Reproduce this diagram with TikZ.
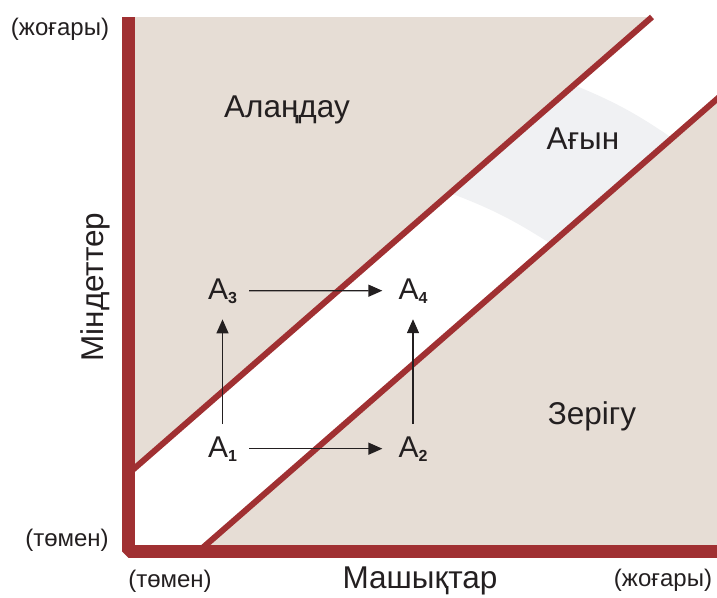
\documentclass[tikz,border=0pt]{standalone}
\usepackage{fontspec}
\setmainfont{Liberation Sans}
\usetikzlibrary{arrows.meta,positioning,calc}
\definecolor{axisred}{RGB}{160,48,50}
\definecolor{zonebeige}{RGB}{230,221,213}
\definecolor{flowgray}{RGB}{240,241,243}
\definecolor{inkgray}{RGB}{35,31,32}
\tikzstyle{arrow} = [-{Triangle[length=14pt,width=12pt]}, line width=1.4pt, inkgray, shorten <=12pt, shorten >=16pt]
\tikzstyle{zone} = [anchor=base, text=inkgray, font=\fontsize{31.5}{36}\selectfont]
\tikzstyle{tick} = [anchor=base, text=inkgray, font=\fontsize{24}{28}\selectfont]

\begin{document}
\begin{tikzpicture}[x=1pt, y=-1pt]
    \clip (0,0) rectangle (717,597);

    % Zones
    \coordinate (up0) at (128,474);
    \coordinate (up1) at (652,17);
    \coordinate (lo0) at (199,551);
    \coordinate (lo1) at (725,92);
    \fill[zonebeige] (128,17) -- (up1) -- (up0) -- cycle;
    \fill[zonebeige] (lo0) -- (lo1) -- (725,551) -- cycle;
    \fill[flowgray] (574,85) -- (450,193) to[bend left=6] (551,244) -- (672,138) to[bend right=6] (574,85) -- cycle;

    % Channel borders
    \draw[axisred, line width=6pt] (up0) -- (up1);
    \draw[axisred, line width=6pt] (lo0) -- (lo1);

    % Axes
    \draw[axisred, line width=13pt, line join=bevel] (128.5,17) -- (128.5,551) -- (717,551);

    % Zone labels
    \node[zone] (anxiety) at (287,117) {Алаңдау};
    \node[zone] (flow) at (583,149) {Ағын};
    \node[zone] (boredom) at (592,424) {Зерігу};

    % Axis labels
    \node[zone, rotate=90] (challenges) at (103,287) {Міндеттер};
    \node[zone] (skills) at (420,588) {Машықтар};
    \node[tick] (yhigh) at (60,35) {(жоғары)};
    \node[tick] (ylow) at (67,546) {(төмен)};
    \node[tick] (xlow) at (170,587) {(төмен)};
    \node[tick] (xhigh) at (663,586) {(жоғары)};

    % States
    \foreach \i/\x/\y in {1/222.5/457,2/413/457,3/222.5/299,4/413/299} {
        \node[anchor=base, inner sep=0pt, text=inkgray, font=\fontsize{30}{34}\selectfont] (a\i) at (\x,\y) {A\raisebox{-4pt}{\fontsize{16}{16}\selectfont\bfseries \i}};
    }
    \draw[arrow] (a1) -- (a2);
    \draw[arrow] (a3) -- (a4);
    \draw[arrow] (a1) -- (a3);
    \draw[arrow] (a2) -- (a4);
\end{tikzpicture}
\end{document}
